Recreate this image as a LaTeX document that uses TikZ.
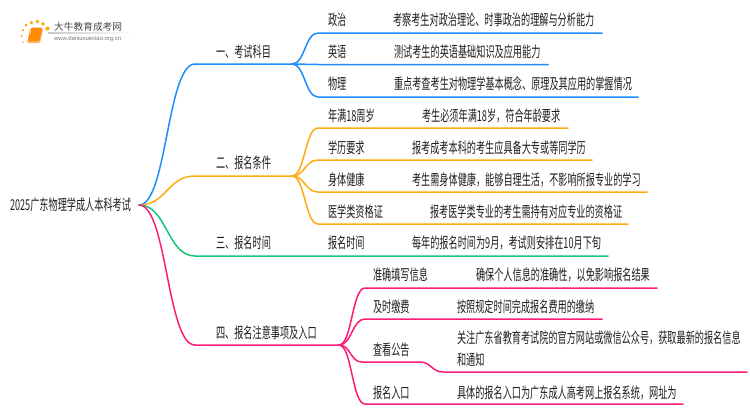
\documentclass[tikz,border=0pt]{standalone}
\usepackage{fontspec}
\setmainfont[FakeStretch=0.61]{Noto Sans CJK SC}
\newfontfamily\logofont{Noto Sans CJK SC}
\newfontfamily\urlfont{Liberation Sans}
\usetikzlibrary{calc}
\definecolor{cblue}{HTML}{1E8CFF}
\definecolor{corange}{HTML}{FFAA14}
\definecolor{cgreen}{HTML}{14C878}
\definecolor{cpink}{HTML}{FF1A78}
\definecolor{ctext}{HTML}{1E1E1E}
\tikzset{
  lab/.style={anchor=west,inner sep=0pt,outer sep=0pt,text=ctext,font=\fontsize{15}{18}\selectfont},
  wire/.style={line width=1.5pt,line cap=round,line join=round},
  dot/.style={circle,fill=#1,draw=none,inner sep=0pt,minimum size=3pt}
}
\begin{document}
\begin{tikzpicture}[x=1pt,y=-1pt]
\useasboundingbox (0,0) rectangle (750,410);
% coordinates
\coordinate (r) at (139,205);
\coordinate (a1) at (195,64);  \coordinate (j1) at (292,64);
\coordinate (a2) at (195,176); \coordinate (j2) at (292,176);
\coordinate (a3) at (195,256); \coordinate (e3) at (608,256);
\coordinate (a4) at (195,345); \coordinate (j4) at (339,345);
% level 0 and 1 text
\node[lab] (root) at (10,205) {2025广东物理学成人本科考试};
\node[lab] (n1) at (216,52) {一、考试科目};
\node[lab] (n2) at (216,163) {二、报名条件};
\node[lab] (n3) at (216,243) {三、报名时间};
\node[lab] (n4) at (216,333) {四、报名注意事项及入口};
% level 2 text
\node[lab] (b1) at (328,20) {政治};
\node[lab] (d1) at (393,20) {考察考生对政治理论、时事政治的理解与分析能力};
\node[lab] (b2) at (328,52) {英语};
\node[lab] (d2) at (394,52) {测试考生的英语基础知识及应用能力};
\node[lab] (b3) at (328,83.5) {物理};
\node[lab] (d3) at (394,83.5) {重点考查考生对物理学基本概念、原理及其应用的掌握情况};
\node[lab] (c1) at (328,115.5) {年满18周岁};
\node[lab] (f1) at (422,115.5) {考生必须年满18岁，符合年龄要求};
\node[lab] (c2) at (328,147.5) {学历要求};
\node[lab] (f2) at (412,147.5) {报考成考本科的考生应具备大专或等同学历};
\node[lab] (c3) at (328,179.5) {身体健康};
\node[lab] (f3) at (412,179.5) {考生需身体健康，能够自理生活，不影响所报专业的学习};
\node[lab] (c4) at (328,211.5) {医学类资格证};
\node[lab] (f4) at (430,211.5) {报考医学类专业的考生需持有对应专业的资格证};
\node[lab] (g1) at (328,243) {报名时间};
\node[lab] (h1) at (412,243) {每年的报名时间为9月，考试则安排在10月下旬};
\node[lab] (k1) at (373,275) {准确填写信息};
\node[lab] (m1) at (476,275) {确保个人信息的准确性，以免影响报名结果};
\node[lab] (k2) at (373,307) {及时缴费};
\node[lab] (m2) at (457,307) {按照规定时间完成报名费用的缴纳};
\node[lab] (k3) at (373,350) {查看公告};
\node[lab] (m3) at (457,338) {关注广东省教育考试院的官方网站或微信公众号，获取最新的报名信息};
\node[lab] (m3b) at (457,360) {和通知};
\node[lab] (k4) at (373,393) {报名入口};
\node[lab] (m4) at (457,393) {具体的报名入口为广东成人高考网上报名系统，网址为};
% underline end points
\coordinate (s1) at (318,33);  \coordinate (t1) at (602,33);
\coordinate (s2) at (318,64.5);\coordinate (t2) at (548,64.5);
\coordinate (s3) at (318,97);  \coordinate (t3) at (638,97);
\coordinate (u1) at (318,128); \coordinate (v1) at (568,128);
\coordinate (u2) at (318,160); \coordinate (v2) at (592,160);
\coordinate (u3) at (318,192); \coordinate (v3) at (647,192);
\coordinate (u4) at (318,224); \coordinate (v4) at (628,224);
\coordinate (p1) at (365,288); \coordinate (q1) at (657,288);
\coordinate (p2) at (365,319); \coordinate (q2) at (602,319);
\coordinate (p3) at (362,362); \coordinate (p3b) at (420,362);
\coordinate (p3c) at (443,372);\coordinate (q3) at (747,372);
\coordinate (p4) at (365,404); \coordinate (q4) at (683,404);
% blue
\draw[wire,cblue] (r) .. controls +(28,0) and +(-28,0) .. (a1) -- (j1);
\draw[wire,cblue] (j1) .. controls +(13,0) and +(-13,0) .. (s1) -- (t1);
\draw[wire,cblue] (j1) -- (s2) -- (t2);
\draw[wire,cblue] (j1) .. controls +(13,0) and +(-13,0) .. (s3) -- (t3);
% orange
\draw[wire,corange] (r) .. controls +(28,0) and +(-28,0) .. (a2) -- (j2);
\draw[wire,corange] (j2) .. controls +(13,0) and +(-13,0) .. (u1) -- (v1);
\draw[wire,corange] (j2) .. controls +(13,0) and +(-13,0) .. (u2) -- (v2);
\draw[wire,corange] (j2) .. controls +(13,0) and +(-13,0) .. (u3) -- (v3);
\draw[wire,corange] (j2) .. controls +(13,0) and +(-13,0) .. (u4) -- (v4);
% green
\draw[wire,cgreen] (r) .. controls +(28,0) and +(-28,0) .. (a3) -- (e3);
% pink
\draw[wire,cpink] (r) .. controls +(28,0) and +(-28,0) .. (a4) -- (j4);
\draw[wire,cpink] (j4) .. controls +(13,0) and +(-13,0) .. (p1) -- (q1);
\draw[wire,cpink] (j4) .. controls +(13,0) and +(-13,0) .. (p2) -- (q2);
\draw[wire,cpink] (j4) .. controls +(12,0) and +(-12,0) .. (p3) -- (p3b)
  .. controls +(11,0) and +(-11,0) .. (p3c) -- (q3);
\draw[wire,cpink] (j4) .. controls +(13,0) and +(-13,0) .. (p4) -- (q4);
% logo
\shade[left color=black!22,right color=white,draw=none] (48,32.8) rectangle (133,33.6);
\node[anchor=west,inner sep=0pt,text=black!72,font=\logofont\fontsize{9.7}{11}\selectfont] (lg) at (54,27) {大牛教育成考网};
\node[anchor=west,inner sep=0pt,text=black!55,font=\urlfont\fontsize{5.9}{7}\selectfont] (lu) at (54,38.5) {www.daniuxuexiao.org.cn};
\fill[rounded corners=1pt,orange!60!white] (30,29) -- (43,29) -- (40,43) -- (27,43) -- cycle;
\fill[rounded corners=1.2pt,orange!90!yellow] (31,27.5) -- (42.5,27.5) -- (39.5,41) -- (28,41) -- cycle;
\draw[white!85!orange,line width=.5pt] (31,30) -- (30,34);
\foreach \px/\py/\ps in {23/30/2.5,26/25/3,31.5/22.5/3.5,37.5/21.5/3.8,43/24/3.8,47.5/28.5/4.2,21.5/36/2,23/42/1.6}
  \node[dot=orange!70!yellow,minimum size=\ps pt] at (\px,\py) {};
\end{tikzpicture}
\end{document}
